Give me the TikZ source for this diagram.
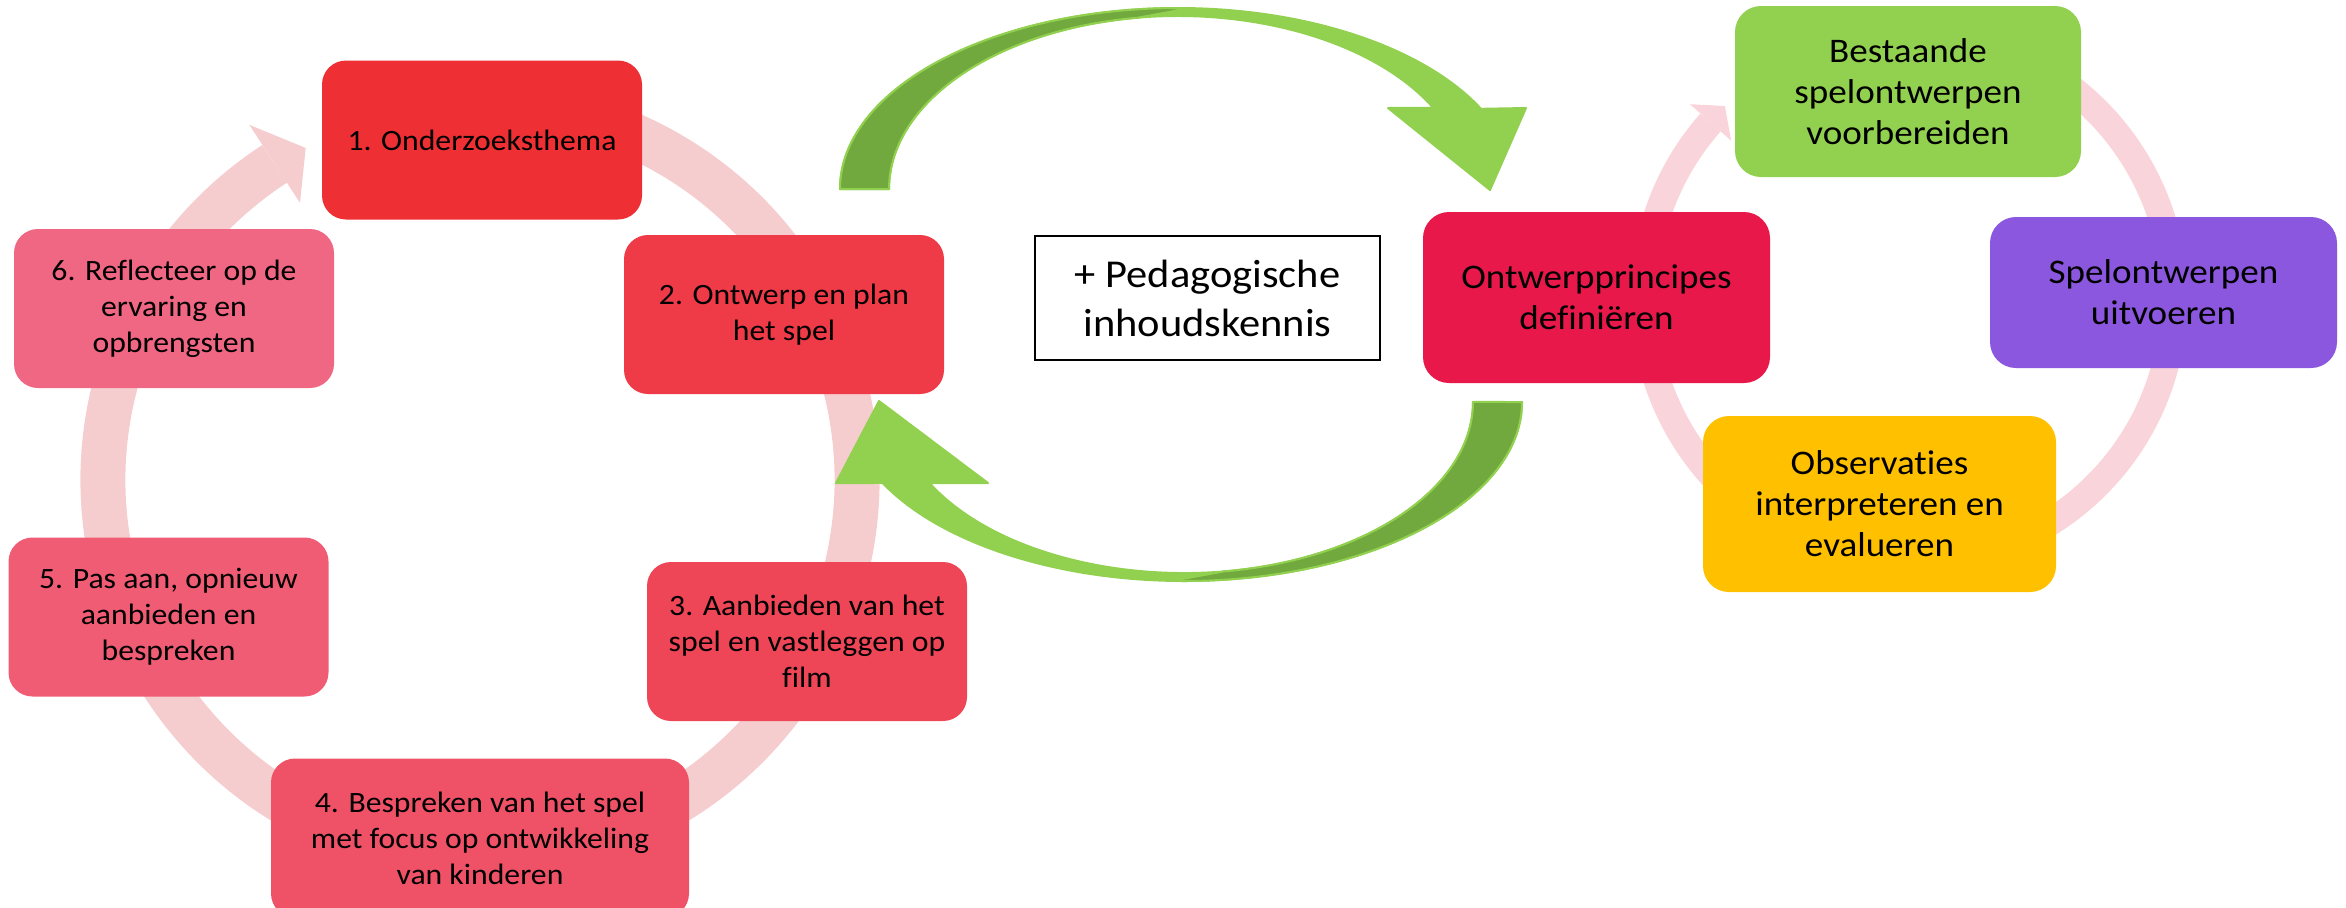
\documentclass[tikz,border=0pt]{standalone}
\usepackage{fontspec}
\setmainfont{Carlito}[FakeStretch=1.075, Ligatures=NoCommon]
\usetikzlibrary{calc}
\definecolor{cA}{HTML}{EE3035}
\definecolor{cB}{HTML}{EF3B47}
\definecolor{cC}{HTML}{EE4656}
\definecolor{cD}{HTML}{EF5267}
\definecolor{cE}{HTML}{EF5C74}
\definecolor{cF}{HTML}{F06783}
\definecolor{rRed}{HTML}{E8194A}
\definecolor{rGreen}{HTML}{92D050}
\definecolor{rPurple}{HTML}{8B57DE}
\definecolor{rYellow}{HTML}{FFC000}
\definecolor{ringLc}{HTML}{F6CDCF}
\definecolor{ringRc}{HTML}{F9D4DA}
\definecolor{gLight}{HTML}{92D050}
\definecolor{gDark}{HTML}{72A93F}
\begin{document}
\begin{tikzpicture}[x=0.5pt,y=-0.5pt,
  lbox/.style={rounded corners=12pt, inner sep=0pt, align=center, minimum width=160pt, minimum height=79.5pt, text=black, font=\fontsize{14.75pt}{18pt}\selectfont},
  rbox/.style={rounded corners=13pt, inner sep=0pt, align=center, text=black, font=\fontsize{17.25pt}{20.5pt}\selectfont},
  ringL/.style={draw=ringLc, line width=22.5pt},
  ringR/.style={draw=ringRc, line width=13.5pt},
  garrow/.style={fill=gLight, draw=gLight, line width=1pt, line join=round},
  gunder/.style={fill=gDark, draw=gLight, line width=1pt, line join=round}
]
\useasboundingbox (0,0) rectangle (2346,907);

% ring centres
\coordinate (cL) at (480,480);
\coordinate (cR) at (1909,298);

% left cycle ring with arrowhead
\draw[ringL] ($(cL)+(-70:377)$) arc[start angle=-70, end angle=237, radius=377];
\fill[ringLc] ($(cL)+(237:423.5)$) -- ($(cL)+(242.3:375)$) -- ($(cL)+(237:330.5)$) -- cycle;

% right cycle ring with arrowhead
\draw[ringR] ($(cR)+(-80:265)$) arc[start angle=-80, end angle=221.5, radius=265];
\fill[ringRc] ($(cR)+(221.5:292.5)$) -- ($(cR)+(226.2:266)$) -- ($(cR)+(221.5:237.5)$) -- cycle;

% top green curved arrow
\path[garrow] (840,189) arc[start angle=180, end angle=333.7, x radius=338, y radius=181]
  -- (1526,108) -- (1490,190) -- (1388,108) -- (1433.2,107.8)
  arc[start angle=332, end angle=180, x radius=289, y radius=173] -- cycle;
\path[gunder] (840,189) arc[start angle=180, end angle=272, x radius=338, y radius=181]
  -- (1137.8,17.7) arc[start angle=262, end angle=180, x radius=289, y radius=173] -- cycle;

% bottom green curved arrow
\path[garrow] (1522,402) arc[start angle=0, end angle=153.1, x radius=338, y radius=179]
  -- (836,483) -- (879,401) -- (988,483) -- (929.5,483)
  arc[start angle=151.73, end angle=0, x radius=289, y radius=171] -- cycle;
\path[gunder] (1522,402) arc[start angle=0, end angle=92, x radius=338, y radius=179]
  -- (1224.2,571.3) arc[start angle=82, end angle=0, x radius=289, y radius=171] -- cycle;

% left cycle boxes
\node[lbox, fill=cA] (b1) at (482,140) {1. Onderzoeksthema};
\node[lbox, fill=cB] (b2) at (784,314.5) {2. Ontwerp en plan\\het spel};
\node[lbox, fill=cC] (b3) at (807,641.5) {3. Aanbieden van het\\spel en vastleggen op\\film};
\node[lbox, fill=cD, minimum width=209pt] (b4) at (480,838) {4. Bespreken van het spel\\met focus op ontwikkeling\\van kinderen};
\node[lbox, fill=cE] (b5) at (168.5,617) {5. Pas aan, opnieuw\\aanbieden en\\bespreken};
\node[lbox, fill=cF] (b6) at (174,308.5) {6. Reflecteer op de\\ervaring en\\opbrengsten};

% middle text box
\node[draw=black, line width=1pt, fill=white, inner sep=0pt, align=center,
      minimum width=172.5pt, minimum height=62pt,
      font=\fontsize{19.75pt}{24.5pt}\selectfont] (mid) at (1207.5,298) {+ Pedagogische\\inhoudskennis};

% right cycle boxes
\node[rbox, fill=rRed, minimum width=173.5pt, minimum height=85.5pt] (r0) at (1596.5,297.5) {Ontwerpprincipes\\definiëren};
\node[rbox, fill=rGreen, minimum width=173pt, minimum height=85.5pt] (r1) at (1908,91.5) {Bestaande\\spelontwerpen\\voorbereiden};
\node[rbox, fill=rPurple, minimum width=173.5pt, minimum height=75.5pt] (r2) at (2163.5,292.5) {Spelontwerpen\\uitvoeren};
\node[rbox, fill=rYellow, minimum width=176.5pt, minimum height=88pt] (r3) at (1879.5,504) {Observat\kern0pt ies\\interpreteren en\\evalueren};
\end{tikzpicture}
\end{document}
